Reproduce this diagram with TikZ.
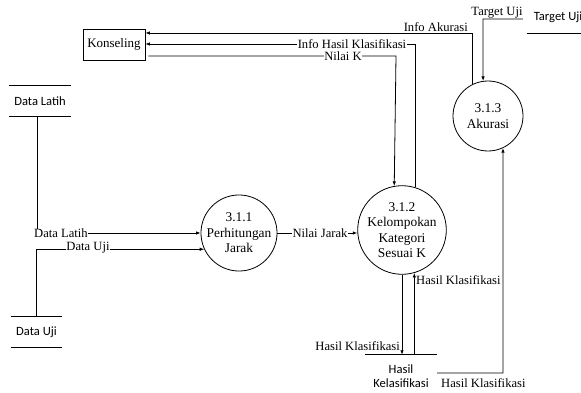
\documentclass[tikz,border=0pt]{standalone}
\usepackage{fontspec}
\setmainfont{Liberation Serif}
\newfontfamily\storefont{Carlito}
\usetikzlibrary{arrows.meta}
\begin{document}
\begin{tikzpicture}[x=1pt,y=-1pt,
  every node/.style={font=\fontsize{12.6}{15.4}\selectfont},
  proc/.style={circle,draw,line width=0.8pt,minimum size=70pt,inner sep=0pt,align=center,font=\fontsize{13.4}{15.4}\selectfont},
  entity/.style={rectangle,draw,line width=0.8pt,minimum width=62pt,minimum height=31pt,inner sep=0pt,font=\fontsize{13}{15.4}\selectfont},
  store/.style={font=\storefont\fontsize{12.6}{14}\selectfont,inner sep=0pt,minimum width=62pt,minimum height=30pt,align=center},
  flow/.style={line width=0.8pt,-{Latex[length=4.5pt,width=3.5pt]}},
  plain/.style={line width=0.8pt},
  lbl/.style={fill=white,inner xsep=0.5pt,inner ysep=0pt}
]
\useasboundingbox (0,0) rectangle (581,393);

% external entity
\node[entity] (ks) at (114,44.5) {Konseling};

% data stores
\node[store] (dl) at (40,101) {Data Latih};
\draw[plain] (dl.north west) -- (dl.north east) (dl.south west) -- (dl.south east);
\node[store,minimum width=51pt] (du) at (36.5,332) {Data Uji};
\draw[plain] (du.north west) -- (du.north east) (du.south west) -- (du.south east);
\node[store,minimum width=72pt,minimum height=42pt] (hk) at (401,376) {Hasil\\Kelasifikasi};
\draw[plain] (hk.north west) -- (hk.north east);
\node[store,minimum height=32pt] (tu) at (558,17) {Target Uji};
\draw[plain] (tu.south west) -- (tu.south east);

% processes
\node[proc] (p1) at (239,233) {3.1.1\\Perhitungan\\Jarak};
\node[proc] (p2) at (402,230) {3.1.2\\Kelompokan\\Kategori\\Sesuai K};
\node[proc] (p3) at (488,116) {3.1.3\\Akurasi};

% bend points
\coordinate (dlc) at (37,233);
\coordinate (nk) at (396,56);
\coordinate (ih) at (412,44);
\coordinate (ia) at (472,33);
\coordinate (tuc) at (483,19);
\coordinate (hc) at (503,373);

% flows
\draw[flow] (dlc |- dl.south) -- (dlc) -- (p1.west);
\node[lbl] at (61,233) {Data Latih};

\draw[flow] (du.north) -- (du.north |- p1.205.4) -- (p1.205.4);
\node[lbl] at (88,248) {Data Uji};

\draw[flow] (p1.east) -- (p1.east -| p2.west);
\node[lbl] at (320,233) {Nilai Jarak};

\draw[flow] ([xshift=3pt]ks.east |- nk) -- (nk) -- (p2.100);
\node[lbl] at (343,56) {Nilai K};

\draw[flow] (p2.73.4) -- (p2.73.4 |- ih) -- (ks.east |- ih);
\node[lbl] at (352,44) {Info Hasil Klasifikasi};

\draw[flow] (p3.117.2) -- (p3.117.2 |- ia) -- (ks.east |- ia);
\node[anchor=south east,inner sep=1pt] at (469,33) {Info Akurasi};

\draw[flow] ([xshift=-4pt]tu.west |- tuc) -- (tuc) -- (p3.98.2);
\node[anchor=south,inner sep=1pt] at (497,19) {Target Uji};

\draw[flow] (p2.south) -- (p2.south |- hk.north);
\node[anchor=east,inner sep=1pt] at (401,346) {Hasil Klasifikasi};

\draw[flow] (p2.286.6 |- hk.north) -- (p2.286.6);
\node[anchor=west,inner sep=1pt] at (415,280) {Hasil Klasifikasi};

\draw[flow] (hk.east |- hc) -- (hc) -- (p3.295.4);
\node[anchor=west,inner sep=1pt] at (440,383) {Hasil Klasifikasi};
\end{tikzpicture}
\end{document}
